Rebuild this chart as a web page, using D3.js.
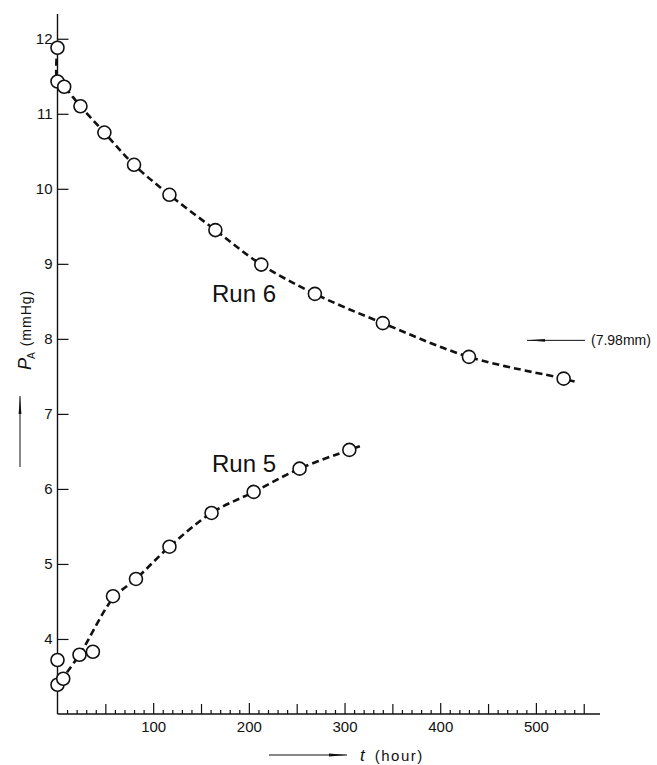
<!DOCTYPE html>
<html>
<head>
<meta charset="utf-8">
<script src="https://cdn.jsdelivr.net/npm/d3@7"></script>
<style>
  html, body { margin: 0; padding: 0; background: #fff; }
  svg { display: block; }
  .num { font-family: "Liberation Sans Narrow", "Liberation Sans", Arial, sans-serif; fill: #111; }
  .lbl { font-family: "Liberation Sans", Arial, sans-serif; fill: #111; }
</style>
</head>
<body>
<svg id="chart" width="657" height="765"></svg>
<script>
// ---- data ----
const run6T = [0, 0, 7, 24, 49, 80, 117, 165, 213, 269, 340, 430, 529];
const run6P = [11.88, 11.43, 11.36, 11.10, 10.75, 10.32, 9.92, 9.45, 8.99, 8.60, 8.21, 7.76, 7.47];
const run5T = [0, 0, 6, 23, 37, 58, 82, 117, 161, 205, 253, 305];
const run5P = [3.72, 3.39, 3.47, 3.79, 3.83, 4.57, 4.80, 5.23, 5.68, 5.96, 6.27, 6.52];

// dashed fitted curves
const fit6T = [0, 0, 7, 24, 49, 80, 117, 165, 213, 269, 340, 430, 529, 541];
const fit6P = [11.88, 11.43, 11.36, 11.10, 10.75, 10.32, 9.92, 9.45, 8.99, 8.60, 8.21, 7.76, 7.47, 7.43];
const fit5T = [3, 23, 58, 82, 117, 161, 205, 253, 305, 316];
const fit5P = [3.44, 3.79, 4.54, 4.80, 5.23, 5.68, 5.96, 6.27, 6.52, 6.57];

const yTicks = [4, 5, 6, 7, 8, 9, 10, 11, 12];
const xMajorTicks = [100, 200, 300, 400, 500];
const xMidTicks = [50, 150, 250, 350, 450, 550];
const xMinorTicks = d3.range(10, 560, 10).filter(v => v % 50 !== 0);
const equilibriumP = 7.98;
const equilibriumLabel = "(7.98mm)";
const seriesLabels = ["Run 6", "Run 5"];

// ---- scales ----
const svg = d3.select("#chart");
const x = d3.scaleLinear().domain([0, 567]).range([57.5, 600]);
const y = d3.scaleLinear().domain([3, 12.33]).range([714, 14]);

// ---- axes ----
const gx = svg.append("g").attr("transform", `translate(0,${y(3)})`);
function xAxis(vals, size, labels) {
  const g = gx.append("g").call(
    d3.axisBottom(x).tickValues(vals).tickSize(-size).tickPadding(size + 6)
      .tickFormat(labels ? d3.format("d") : () => "")
  );
  g.select(".domain").remove();
  g.selectAll(".tick line").attr("stroke", "#111").attr("stroke-width", 1.2);
  g.selectAll(".tick text").attr("class", "num").attr("font-size", 15).attr("fill", "#111");
  return g;
}
xAxis(xMinorTicks, 4, false);
xAxis(xMidTicks, 10, false);
xAxis(xMajorTicks, 11, true).selectAll(".tick text").attr("dy", "0.95em").attr("y", 4);
gx.append("line").attr("x1", x(0)).attr("x2", x(567)).attr("y1", 0).attr("y2", 0)
  .attr("stroke", "#111").attr("stroke-width", 1.4);

const gy = svg.append("g").attr("transform", `translate(${x(0)},0)`);
const ya = gy.call(d3.axisLeft(y).tickValues(yTicks).tickSize(0).tickPadding(5).tickFormat(d3.format("d")));
ya.select(".domain").remove();
ya.selectAll(".tick text").attr("class", "num").attr("font-size", 15).attr("fill", "#111");
ya.selectAll(".tick").append("line").attr("x1", 0).attr("x2", 11).attr("stroke", "#111").attr("stroke-width", 1.2);
gy.append("line").attr("x1", 0).attr("x2", 0).attr("y1", y(3)).attr("y2", y(12.33))
  .attr("stroke", "#111").attr("stroke-width", 1.4);

// ---- arrow marker ----
const defs = svg.append("defs");
defs.append("marker").attr("id", "arr").attr("viewBox", "0 0 18 6")
  .attr("refX", 18).attr("refY", 3).attr("markerWidth", 18).attr("markerHeight", 6)
  .attr("markerUnits", "userSpaceOnUse").attr("orient", "auto")
  .append("path").attr("d", "M0,1.6 L18,3 L0,4.4 Z").attr("fill", "#111");

// ---- fitted dashed curves ----
const line = d3.line().x(d => x(d[0])).y(d => y(d[1])).curve(d3.curveCatmullRom.alpha(0.5));
[[fit6T, fit6P], [fit5T, fit5P]].forEach(([T, P]) => {
  svg.append("path").datum(T.map((t, i) => [t, P[i]])).attr("d", line)
    .attr("fill", "none").attr("stroke", "#111").attr("stroke-width", 2.6)
    .attr("stroke-dasharray", "7,4");
});

// ---- points ----
[[run6T, run6P], [run5T, run5P]].forEach(([T, P]) => {
  svg.append("g").selectAll("circle").data(T.map((t, i) => [t, P[i]])).join("circle")
    .attr("cx", d => x(d[0])).attr("cy", d => y(d[1])).attr("r", 6.5)
    .attr("fill", "#fff").attr("stroke", "#111").attr("stroke-width", 1.6);
});

// ---- series labels ----
svg.append("text").attr("class", "lbl").attr("x", 212).attr("y", 302).attr("font-size", 24).text(seriesLabels[0]);
svg.append("text").attr("class", "lbl").attr("x", 212).attr("y", 472).attr("font-size", 24).text(seriesLabels[1]);

// ---- equilibrium annotation ----
svg.append("line").attr("x1", 585).attr("x2", 527).attr("y1", y(equilibriumP)).attr("y2", y(equilibriumP))
  .attr("stroke", "#111").attr("stroke-width", 1).attr("marker-end", "url(#arr)");
svg.append("text").attr("class", "num").attr("x", 591).attr("y", y(equilibriumP)).attr("dy", "0.35em")
  .attr("font-size", 14).text(equilibriumLabel);

// ---- axis titles ----
svg.append("line").attr("x1", 269).attr("x2", 347).attr("y1", 755).attr("y2", 755)
  .attr("stroke", "#111").attr("stroke-width", 1).attr("marker-end", "url(#arr)");
const xt = svg.append("text").attr("class", "lbl").attr("x", 360).attr("y", 761).attr("font-size", 17);
xt.append("tspan").attr("font-style", "italic").text("t");
xt.append("tspan").attr("dx", 10).attr("font-size", 15).attr("letter-spacing", 1.5).text("(hour)");

svg.append("line").attr("x1", 20).attr("x2", 20).attr("y1", 467).attr("y2", 396)
  .attr("stroke", "#111").attr("stroke-width", 1).attr("marker-end", "url(#arr)");
const yt = svg.append("text").attr("class", "lbl").attr("transform", "translate(31,370) rotate(-90)").attr("font-size", 18);
yt.append("tspan").attr("font-style", "italic").text("P");
yt.append("tspan").attr("font-size", 10).attr("dy", 4).attr("dx", -1).text("A");
yt.append("tspan").attr("font-size", 14).attr("dy", -4).attr("dx", 6).attr("letter-spacing", 1).text("(mmHg)");
</script>
</body>
</html>
